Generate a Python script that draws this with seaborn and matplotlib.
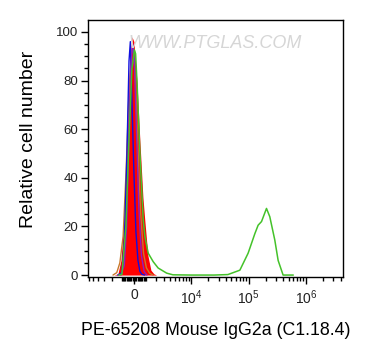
import numpy as np
import matplotlib
matplotlib.use("Agg")
import matplotlib.pyplot as plt
import seaborn as sns

# ---------------- data (fluorescence intensity vs relative cell number) -----
red_x = [-1800, -1385, -1100, -831, -574, -325, -162, 0, 243, 490, 744, 919, 1193, 1484, 1797, 2100]
red_y = [0, 0.5, 6, 22, 55, 88, 98, 96, 80, 55, 32, 22, 8, 2, 0.5, 0]

blue_x = [-1400, -1009, -780, -574, -400, -290, -162, 0, 160, 330, 490, 660, 900]
blue_y = [0, 1, 15, 50, 88, 96, 72, 42, 18, 6, 1.5, 0.3, 0]

orange_x = [-1900, -1500, -1200, -900, -650, -400, -200, -40, 120, 330, 560, 800, 1050, 1350, 1700]
orange_y = [0, 1, 5, 16, 42, 75, 92, 94, 80, 52, 25, 9, 3, 0.8, 0]

purple_x = [-1100, -800, -600, -420, -260, -100, 40, 200, 400, 620, 850, 1100]
purple_y = [0, 4, 20, 55, 85, 95, 88, 60, 28, 8, 1.5, 0]

green_x = [-1300, -1009, -659, -407, -162, 40, 137, 268, 490, 633, 770, 919, 1221,
           1721, 2283, 3474, 4600, 10000, 25000, 43600, 70500, 98200, 128500,
           146600, 168000, 205000, 234000, 286000, 327000, 399000, 600000]
green_y = [0, 0.3, 20, 55, 85, 92.6, 91, 77.5, 50, 36, 22.6, 15.8, 9,
           5.5, 2.9, 0.8, 0.1, 0, 0, 0.2, 2, 9, 17,
           20.5, 22, 27.4, 24, 14.4, 6, 0, 0]

x_major = [0, 1e4, 1e5, 1e6]
x_major_labels = ["0", "$10^4$", "$10^5$", "$10^6$"]
y_major = [0, 20, 40, 60, 80, 100]

xlabel = "PE-65208 Mouse IgG2a (C1.18.4)"
ylabel = "Relative cell number"
watermark = "WWW.PTGLAS.COM"

# ---------------- style -----------------------------------------------------
sns.set_theme(style="ticks")
plt.rcParams["font.family"] = ["Liberation Sans", "DejaVu Sans"]
plt.rcParams["mathtext.fontset"] = "custom"
plt.rcParams["mathtext.rm"] = "Liberation Sans"
plt.rcParams["mathtext.it"] = "Liberation Sans"

W = 2020.0
LN10 = np.log(10)


def fwd(x):
    return np.arcsinh(np.asarray(x, dtype=float) / W) / LN10


def inv(u):
    return W * np.sinh(np.asarray(u, dtype=float) * LN10)


fig = plt.figure(figsize=(3.74, 3.60), dpi=100)
ax = fig.add_axes([88 / 374, 1 - 277 / 360, (343 - 88) / 374, (277 - 20) / 360])

ax.fill_between(red_x, red_y, 0, color="#ff0000", linewidth=0, zorder=2)
sns.lineplot(x=orange_x, y=orange_y, ax=ax, color="#c8782a", lw=1.0, sort=False,
             estimator=None, zorder=3)
sns.lineplot(x=blue_x, y=blue_y, ax=ax, color="#1010e0", lw=1.0, sort=False,
             estimator=None, zorder=4)
sns.lineplot(x=purple_x, y=purple_y, ax=ax, color="#8a1fc0", lw=1.0, sort=False,
             estimator=None, zorder=4)
sns.lineplot(x=green_x, y=green_y, ax=ax, color="#44c22a", lw=1.1, sort=False,
             estimator=None, zorder=5)

ax.set_xscale("function", functions=(fwd, inv))
ax.set_xlim(-6200, 4.4e6)
ax.set_ylim(-0.8, 104.9)

minor = []
for k in range(1, 10):
    minor += [k * 100, -k * 100, k * 1000, -k * 1000]
for e in (4, 5, 6):
    for k in range(2, 10):
        minor.append(k * 10 ** e)
minor = [m for m in minor if -6200 < m < 4.4e6]
ax.set_xticks(x_major)
ax.set_xticklabels(x_major_labels)
ax.set_xticks(minor, minor=True)
ax.set_yticks(y_major)
ax.set_yticks(np.arange(0, 105, 5), minor=True)

ax.tick_params(axis="both", which="major", direction="out", length=5, width=1,
               color="black", labelsize=9.5, labelcolor="#222222", pad=2)
ax.tick_params(axis="both", which="minor", direction="out", length=3, width=1,
               color="black")
ax.tick_params(axis="x", which="major", labelsize=10, pad=3)
for s in ax.spines.values():
    s.set_visible(True)
    s.set_color("black")
    s.set_linewidth(1.0)

ax.set_xlabel(xlabel, fontsize=12.8, color="black")
ax.set_ylabel(ylabel, fontsize=14, color="black")
ax.xaxis.set_label_coords(0.5, -0.175)
ax.yaxis.set_label_coords(-0.2, 0.535)

fig.text(0.575, 0.878, watermark, fontsize=13, color="#d6d6d6", style="italic",
         ha="center", va="center", zorder=10)

fig.savefig("out.png", dpi=100, facecolor="white")
